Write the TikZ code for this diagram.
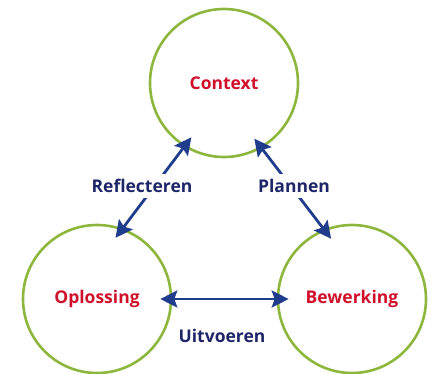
\documentclass[tikz,border=0pt]{standalone}
\usepackage{fontspec}
\setmainfont{Open Sans}
\usetikzlibrary{arrows.meta}
\definecolor{ringgreen}{RGB}{141,182,60}
\definecolor{wordred}{RGB}{208,16,42}
\definecolor{arrowblue}{RGB}{32,60,140}
\definecolor{labelnavy}{RGB}{30,38,104}
\tikzset{
    stage/.style={circle,draw=ringgreen,line width=2.6pt,minimum size=148pt,
        text=wordred,font=\bfseries\fontsize{17.5}{20}\selectfont},
    verb/.style={text=labelnavy,fill=white,inner sep=5pt,
        font=\bfseries\fontsize{17.5}{20}\selectfont},
    link/.style={arrowblue,line width=2.8pt,
        {Stealth[length=17pt,width=17pt,inset=3pt]}-{Stealth[length=17pt,width=17pt,inset=3pt]}}
}

\begin{document}
\begin{tikzpicture}[x=1pt,y=-1pt]
\useasboundingbox (0,0) rectangle (432,373);
\node[stage] (ctx) at (224,83) {Context};
\node[stage] (ops) at (97,299) {Oplossing};
\node[stage] (bew) at (352,299) {Bewerking};
% arrows between the stages
\draw[link,shorten <=-12pt,shorten >=-12pt] (ops.70) -- (ctx.238);
\draw[link,shorten <=-12pt,shorten >=-12pt] (ctx.300) -- (bew.112);
\draw[link,shorten <=-12pt,shorten >=-12pt] (ops.east) -- (bew.west);
\node[verb] (refl) at (142,186) {Reflecteren};
\node[verb] (plan) at (294,186) {Plannen};
\node[verb,fill=none] (uitv) at (222,336) {Uitvoeren};
\end{tikzpicture}
\end{document}
